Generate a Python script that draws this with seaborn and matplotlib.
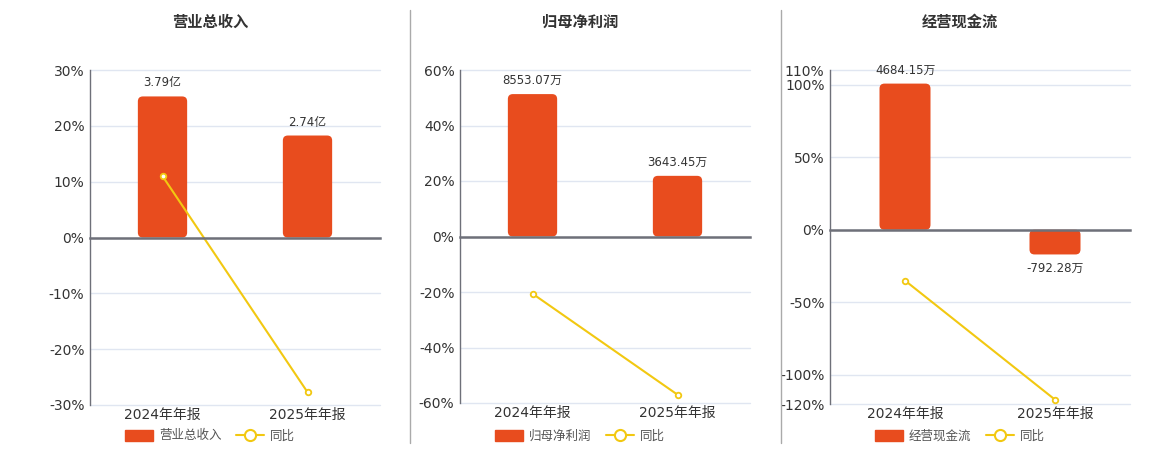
import numpy as np
import pandas as pd
import matplotlib
matplotlib.use('Agg')
import matplotlib.pyplot as plt
import seaborn as sns
from matplotlib.lines import Line2D
from matplotlib.patches import Patch, FancyBboxPatch

sns.set_style('white')
plt.rcParams['font.family'] = ['DejaVu Sans', 'Noto Sans CJK SC']
plt.rcParams['axes.unicode_minus'] = False

periods = ['2024年年报', '2025年年报']

titles = ['营业总收入', '归母净利润', '经营现金流']
bar_values = [[3.79, 2.74], [8553.07, 3643.45], [4684.15, -792.28]]
bar_units = ['亿', '万', '万']
yoy_values = [[11.0, -27.7], [-20.6, -57.0], [-35.0, -117.0]]

pct_limits = [(-30, 30), (-60, 60), (-120, 110)]
pct_ticks = [[-30, -20, -10, 0, 10, 20, 30],
             [-60, -40, -20, 0, 20, 40, 60],
             [-120, -100, -50, 0, 50, 100, 110]]
# value on the hidden bar axis that lines up with the top of the percent axis
bar_axis_top = [4.5, 10000, 5120]

BAR_COLOR = '#E84C1E'
LINE_COLOR = '#F2C811'
AXIS_COLOR = '#6E7079'
GRID_COLOR = '#E0E6F1'
TEXT_COLOR = '#333333'

W, H = 1160, 450
fig = plt.figure(figsize=(W / 100, H / 100), dpi=100)

# pixel boxes of the three plot areas: left, top, right, bottom
boxes = [(90, 70, 380, 405), (460, 70, 750, 403), (830, 70, 1130, 404)]
centers = [210, 580, 960]

for i in range(3):
    l, t, r, b = boxes[i]
    rect = [l / W, 1 - b / H, (r - l) / W, (b - t) / H]
    lo, hi = pct_limits[i]

    df = pd.DataFrame({'period': periods, 'value': bar_values[i], 'yoy': yoy_values[i]})

    # base axes: percent scale, grid, tick labels
    ax = fig.add_axes(rect)
    ax.set_xlim(-0.5, 1.5)
    ax.set_ylim(lo, hi)
    ax.set_yticks(pct_ticks[i])
    ax.set_yticklabels([f'{v}%' for v in pct_ticks[i]])
    ax.set_xticks([0, 1])
    ax.set_xticklabels(periods)
    ax.tick_params(axis='both', length=0, labelsize=10, colors=TEXT_COLOR)
    ax.tick_params(axis='y', pad=4)
    ax.tick_params(axis='x', pad=2)
    ax.grid(axis='y', color=GRID_COLOR, linewidth=1)
    for gl in ax.get_ygridlines():
        gl.set_clip_on(False)
    for s in ['top', 'right', 'bottom']:
        ax.spines[s].set_visible(False)
    ax.spines['left'].set_color(AXIS_COLOR)
    ax.spines['left'].set_linewidth(1)

    # bars on a hidden axis whose zero sits at 0%
    axb = fig.add_axes(rect)
    axb.patch.set_visible(False)
    sns.barplot(data=df, x='period', y='value', color=BAR_COLOR, width=0.34,
                saturation=1, ax=axb)
    k = bar_axis_top[i] / hi
    axb.set_xlim(-0.5, 1.5)
    axb.set_ylim(lo * k, hi * k)
    axb.bar_label(axb.containers[0],
                  labels=[f'{v}{bar_units[i]}' for v in bar_values[i]],
                  padding=5, fontsize=8.5, color=TEXT_COLOR)
    # swap plain bars for rounded ones
    x_per_px = 2.0 / (r - l)
    y_per_px = (hi - lo) * k / (b - t)
    for p in list(axb.patches):
        x0, y0 = p.get_x(), p.get_y()
        w, h = p.get_width(), p.get_height()
        if h < 0:
            y0, h = y0 + h, -h
        rb = FancyBboxPatch((x0, y0), w, h,
                            boxstyle=f'round,pad=0,rounding_size={5 * x_per_px}',
                            mutation_aspect=y_per_px / x_per_px,
                            facecolor=BAR_COLOR, edgecolor='none')
        axb.add_patch(rb)
        p.set_visible(False)
    axb.axis('off')

    # yoy line and zero axis on top
    axl = fig.add_axes(rect)
    axl.patch.set_visible(False)
    sns.lineplot(data=df, x='period', y='yoy', color=LINE_COLOR, linewidth=1.5,
                 marker='o', markersize=4, markerfacecolor='white',
                 markeredgecolor=LINE_COLOR, markeredgewidth=1.3, sort=False, ax=axl)
    axl.set_xlim(-0.5, 1.5)
    axl.set_ylim(lo, hi)
    axl.set_xlabel('')
    axl.set_ylabel('')
    axl.set_yticks([])
    for s in ['top', 'right', 'left']:
        axl.spines[s].set_visible(False)
    axl.spines['bottom'].set_position(('data', 0))
    axl.spines['bottom'].set_color(AXIS_COLOR)
    axl.spines['bottom'].set_linewidth(1.8)
    axl.set_xticks([-0.5, 0.5, 1.5])
    axl.set_xticklabels([])
    axl.tick_params(axis='x', direction='out', length=5, width=1, color=AXIS_COLOR)

    fig.text(centers[i] / W, 1 - 22 / H, titles[i], ha='center', va='center',
             fontsize=11, fontweight='bold', color=TEXT_COLOR)

    handles = [Patch(facecolor=BAR_COLOR, edgecolor=BAR_COLOR),
               Line2D([0], [0], color=LINE_COLOR, linewidth=1.5, marker='o',
                      markersize=8, markerfacecolor='white',
                      markeredgecolor=LINE_COLOR, markeredgewidth=1.5)]
    fig.legend(handles, [titles[i], '同比'], loc='center',
               bbox_to_anchor=(centers[i] / W, 1 - 436 / H), ncol=2,
               frameon=False, fontsize=9, handlelength=2.2, handleheight=1.0,
               columnspacing=1.2, handletextpad=0.5, labelcolor='#555555')

# panel dividers
for x in [410, 781]:
    fig.add_artist(Line2D([x / W, x / W], [1 - 10 / H, 1 - 443 / H],
                          color='#AAAAAA', linewidth=1))

fig.savefig('out.png', dpi=100)
